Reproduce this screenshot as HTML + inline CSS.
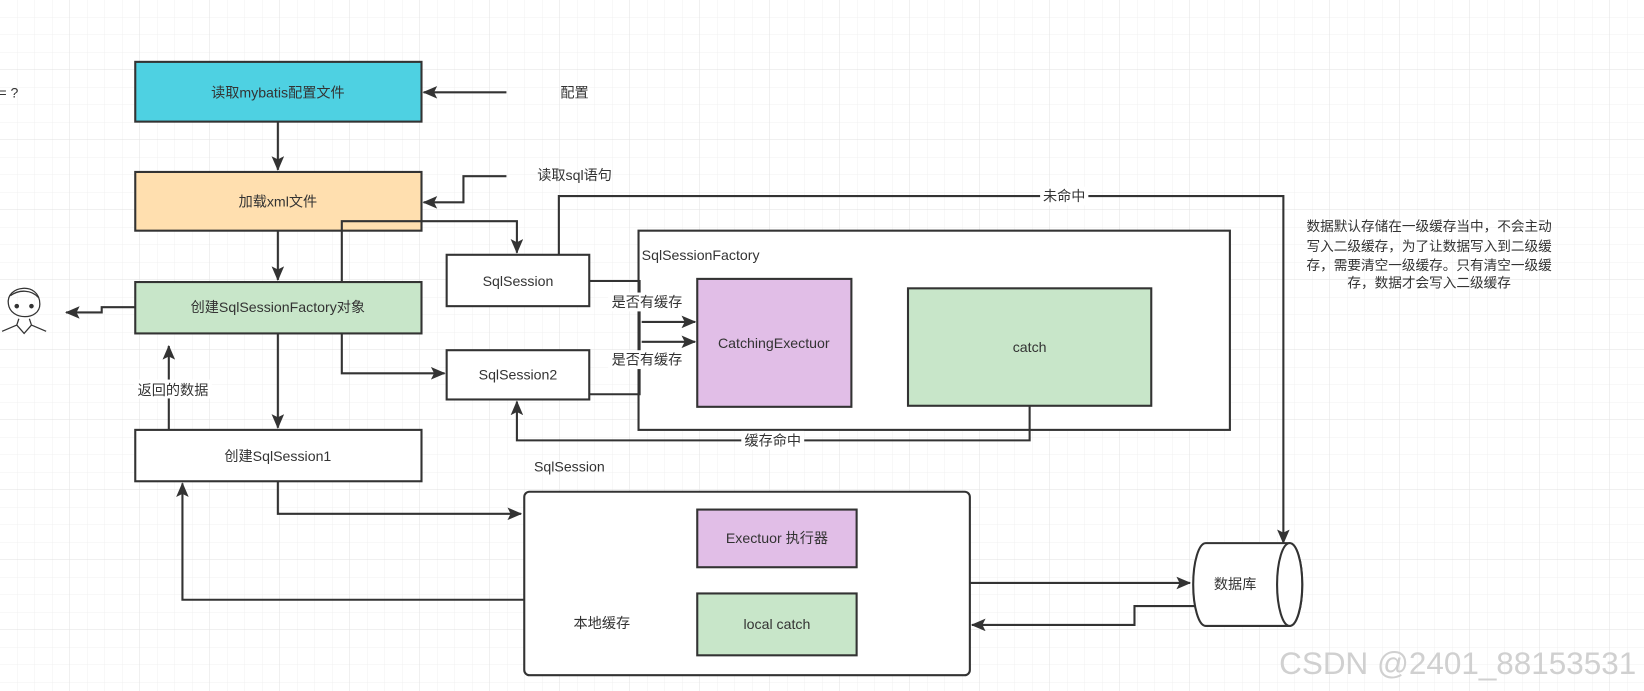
<!DOCTYPE html>
<html><head><meta charset="utf-8"><style>
html,body{margin:0;padding:0;background:#fff;}
svg{display:block;font-family:"Liberation Sans","Noto Sans CJK SC",sans-serif;}
</style></head><body>
<svg width="1644" height="691" viewBox="0 0 1644 691" xmlns="http://www.w3.org/2000/svg">
<defs>
<pattern id="g" width="17.5" height="17.5" patternUnits="userSpaceOnUse"><path d="M17.5 0V17.5M0 17.5H17.5" stroke="#f0f0f0" stroke-width="1" fill="none"/></pattern>
<pattern id="G" width="70" height="70" patternUnits="userSpaceOnUse"><rect width="70" height="70" fill="url(#g)"/><path d="M70 0V70M0 70H70" stroke="#e6e6e6" stroke-width="1.2" fill="none"/></pattern>
<marker id="a" markerWidth="14" markerHeight="12" refX="13" refY="6" orient="auto" markerUnits="userSpaceOnUse"><path d="M0,0 L14,6 L0,12 L3,6 Z" fill="#333"/></marker>
</defs>
<rect width="1644" height="691" fill="url(#G)"/>
<g transform="scale(1.0485)">
<g stroke="#333" stroke-width="2" fill="none">
<rect x="129" y="59" width="273" height="57" fill="#4ed1e2"/>
<rect x="129" y="164" width="273" height="56" fill="#ffdfaf"/>
<rect x="129" y="269" width="273" height="49" fill="#c8e6c9"/>
<rect x="129" y="410" width="273" height="49" fill="#fff"/>
<rect x="426" y="243" width="136" height="49" fill="#fff"/>
<rect x="426" y="334" width="136" height="47" fill="#fff"/>
<rect x="609" y="220" width="564" height="190" fill="#fff"/>
<rect x="665" y="266" width="147" height="122" fill="#e1bee7"/>
<rect x="866" y="275" width="232" height="112" fill="#c8e6c9"/>
<rect x="500" y="469" width="425" height="175" rx="5" fill="#fff"/>
<rect x="665" y="486" width="152" height="55" fill="#e1bee7"/>
<rect x="665" y="566" width="152" height="59" fill="#c8e6c9"/>
<path d="M1150,518 H1230 A12,39.5 0 0 1 1230,597 H1150 A12,39.5 0 0 1 1150,518 Z" fill="#fff"/>
<ellipse cx="1230" cy="557.5" rx="12" ry="39.5" fill="#fff"/>
<path d="M265,116 V162" marker-end="url(#a)"/>
<path d="M265,220 V267" marker-end="url(#a)"/>
<path d="M265,318 V408" marker-end="url(#a)"/>
<path d="M483,88 H404" marker-end="url(#a)"/>
<path d="M483,168 H442 V193 H404" marker-end="url(#a)"/>
<path d="M326,269 V211 H493 V241" marker-end="url(#a)"/>
<path d="M326,318 V356 H424" marker-end="url(#a)"/>
<path d="M161,410 V330" marker-end="url(#a)"/>
<path d="M129,293 H97 V298 H63" marker-end="url(#a)"/>
<path d="M533,243 V187 H1224 V518" marker-end="url(#a)"/>
<path d="M562,268 H610 V376 H562"/>
<path d="M612,307 H663" marker-end="url(#a)"/>
<path d="M612,326 H663" marker-end="url(#a)"/>
<path d="M982,387 V420 H493 V383" marker-end="url(#a)"/>
<path d="M265,459 V490 H497" marker-end="url(#a)"/>
<path d="M500,572 H174 V461" marker-end="url(#a)"/>
<path d="M925,556 H1135" marker-end="url(#a)"/>
<path d="M1140,578 H1082 V596 H927" marker-end="url(#a)"/>
</g>
<g fill="#fff">
<rect x="128" y="362" width="74" height="18"/>
<rect x="580" y="279" width="74" height="18"/>
<rect x="580" y="334" width="74" height="18"/>
<rect x="992" y="178" width="46" height="18"/>
<rect x="707" y="411" width="60" height="18"/>
</g>
<g font-size="13.5" fill="#333" text-anchor="middle" dominant-baseline="central">
<text x="265" y="88">读取mybatis配置文件</text>
<text x="265" y="192">加载xml文件</text>
<text x="265" y="293">创建SqlSessionFactory对象</text>
<text x="265" y="435">创建SqlSession1</text>
<text x="548" y="88">配置</text>
<text x="548" y="167">读取sql语句</text>
<text x="494" y="268">SqlSession</text>
<text x="494" y="357">SqlSession2</text>
<text x="165" y="372">返回的数据</text>
<text x="617" y="288">是否有缓存</text>
<text x="617" y="343">是否有缓存</text>
<text x="1015" y="187">未命中</text>
<text x="737" y="420">缓存命中</text>
<text x="738" y="327">CatchingExectuor</text>
<text x="982" y="331">catch</text>
<text x="543" y="445">SqlSession</text>
<text x="741" y="513">Exectuor 执行器</text>
<text x="741" y="595">local  catch</text>
<text x="574" y="594">本地缓存</text>
<text x="1178" y="557">数据库</text>
<text x="8" y="88">= ?</text>
<text x="1363" y="216" font-size="13">数据默认存储在一级缓存当中，不会主动</text>
<text x="1363" y="235" font-size="13">写入二级缓存，为了让数据写入到二级缓</text>
<text x="1363" y="253" font-size="13">存，需要清空一级缓存。只有清空一级缓</text>
<text x="1363" y="270" font-size="13">存，数据才会写入二级缓存</text>
</g>
<text x="612" y="248" font-size="13.5" fill="#333">SqlSessionFactory</text>
<g stroke="#333" stroke-width="1.2" fill="none">
<path d="M8,290 C5,272 38,268 38,290 C38,306 10,306 8,290 Z"/>
<path d="M10,282 C18,276 30,276 37,284"/>
<circle cx="16" cy="292" r="1.6" fill="#333"/><circle cx="30" cy="292" r="1.6" fill="#333"/>
<path d="M18,304 L16,310 L2,316 M28,304 L30,310 L44,316 M16,310 L23,318 L30,310"/>
</g>
<text x="1220" y="643" font-size="30" fill="#d0d0d0" font-family="Liberation Sans,sans-serif">CSDN @2401_88153531</text>
</g>
</svg>
</body></html>
